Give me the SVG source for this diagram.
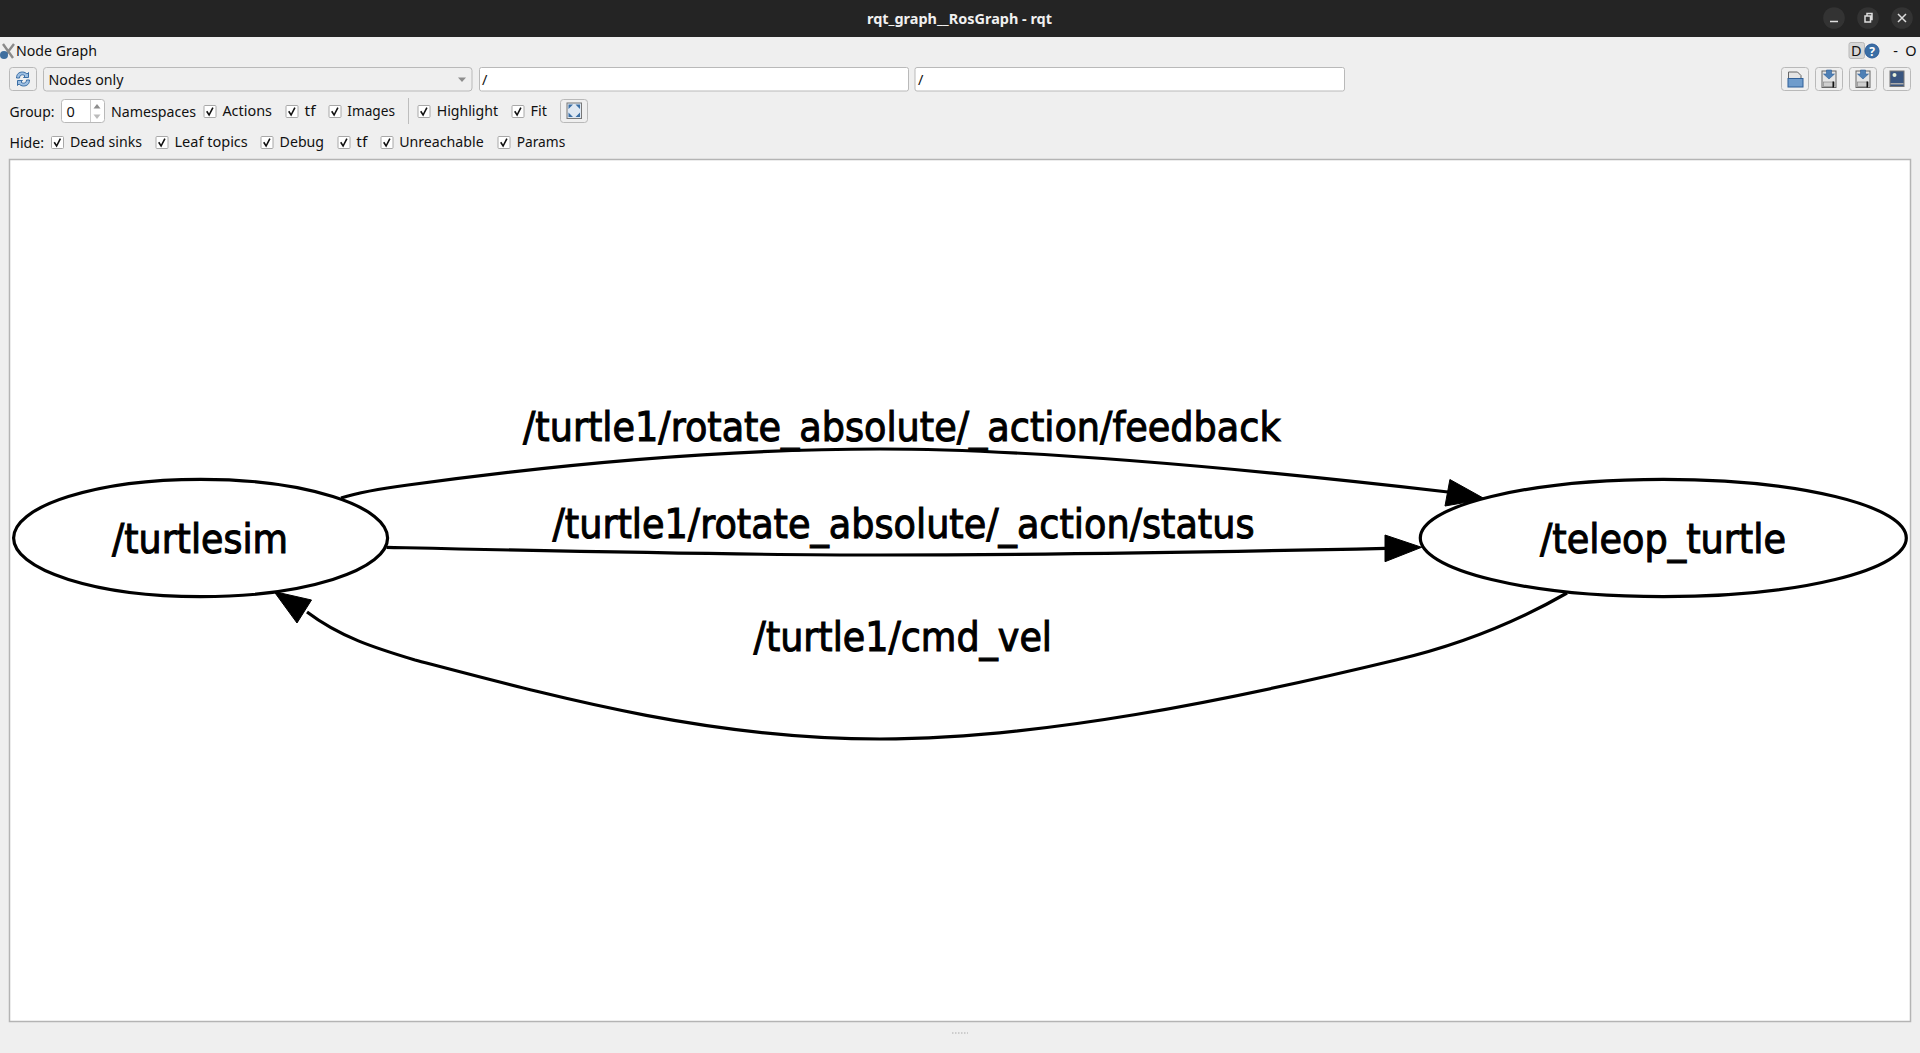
<svg xmlns="http://www.w3.org/2000/svg" width="1920" height="1053" viewBox="0 0 1920 1053">
<style>
.ui{font-family:"Noto Sans","Open Sans","DejaVu Sans",sans-serif;font-size:14.5px;fill:#111}
.btn{fill:#efefef;stroke:#b9b9b9;stroke-width:1}
.field{fill:#fff;stroke:#b9b9b9;stroke-width:1}
.cb{fill:#fff;stroke:#a8a8a8;stroke-width:1}
.chk{fill:none;stroke:#111;stroke-width:1.6}
.node{fill:#fff;stroke:#000;stroke-width:3.2}
.edge{fill:none;stroke:#000;stroke-width:3.2}
.head{fill:#000;stroke:#000;stroke-width:1}
.lbl{font-family:"DejaVu Sans","Liberation Sans",sans-serif;font-size:41px;fill:#000;stroke:#000;stroke-width:1.1}
.wb{fill:#333}
.wi{fill:none;stroke:#ddd;stroke-width:1.5}
.blue{fill:#3a6ea5}
.grey{fill:#8d8d8d}
</style>
<defs>
<g id="check"><rect class="cb" x="0.5" y="0.5" width="12" height="12" rx="1"/><path class="chk" d="M3.2 6.3L5.6 10L9.400 2.600"/></g>
<g id="saveicon"><rect x="-7" y="-8" width="14" height="16.500" fill="#e6e6e6" stroke="#666"/><rect x="-5.500" y="3" width="11" height="4.500" fill="#cfcfcf" stroke="#888" stroke-width=".7"/><path d="M-2.500 -9h5v4h3l-5.500 5l-5.500-5h3z" fill="#4f80b5" stroke="#2f5f98" stroke-width=".6"/><rect x="3.500" y="2.500" width="1.500" height="6" fill="#111"/></g>
</defs>
<rect width="1920" height="1053" fill="#efefef"/>

<g id="titlebar">
<rect width="1920" height="37" fill="#242424"/>
<text x="959.500" y="23.500" text-anchor="middle" textLength="185" lengthAdjust="spacingAndGlyphs" style="font-family:'Noto Sans','Open Sans',sans-serif;font-size:14.500px;font-weight:700;fill:#f0f0f0">rqt_graph__RosGraph - rqt</text>
<circle class="wb" cx="1834" cy="18" r="10.800"/><circle class="wb" cx="1868" cy="18" r="10.800"/><circle class="wb" cx="1902" cy="18" r="10.800"/>
<path class="wi" d="M1830 21.500h8"/>
<path class="wi" d="M1865 16h5.500v6h-5.500zM1867 16v-2.500h5v6h-1.500"/>
<path class="wi" d="M1898 14l8 8M1906 14l-8 8"/>
</g>

<g id="toolbar">
<path d="M4 57l10-13M13 58L3 44" stroke="#8a8a8a" stroke-width="2.400" fill="none"/><circle cx="4" cy="55" r="4" fill="#3f6f9f"/>
<text class="ui" x="16" y="56" textLength="81" lengthAdjust="spacingAndGlyphs">Node Graph</text>
<rect class="btn" x="1849" y="42.500" width="15.500" height="16" rx="2" style="fill:#d6d6d6"/>
<text x="1851" y="56" style="font-family:'Noto Sans',sans-serif;font-size:14.500px;fill:#111">D</text>
<circle cx="1872" cy="51" r="7" fill="#3a6ea5" stroke="#2a5a9a"/>
<text x="1872" y="55.500" text-anchor="middle" style="font-family:'Noto Sans',sans-serif;font-size:12px;font-weight:700;fill:#fff">?</text>
<text x="1895.500" y="56" text-anchor="middle" style="font-family:'Noto Sans',sans-serif;font-size:14.500px;fill:#111">-</text>
<text x="1911" y="56" text-anchor="middle" style="font-family:'Noto Sans',sans-serif;font-size:14.500px;fill:#111">O</text>

<rect class="btn" x="9.500" y="67.500" width="27" height="23" rx="3"/>
<path d="M16.500 78c0-4 2.500-6 6-6c2 0 3.500 1 4.500 2l1.500-1.500v5h-5l1.500-1.500c-.7-.8-1.600-1.200-2.500-1.200c-2 0-3 1.500-3 3.200zM29.500 80c0 4-2.500 6-6 6c-2 0-3.500-1-4.500-2l-1.500 1.500v-5h5l-1.500 1.500c.7.800 1.600 1.200 2.500 1.200c2 0 3-1.500 3-3.200z" fill="#9dbfe2" stroke="#3a6ea5" stroke-width="1"/>
<rect class="btn" x="43.500" y="67.500" width="428.500" height="23.500" rx="3"/>
<text class="ui" x="48.500" y="85" textLength="75" lengthAdjust="spacingAndGlyphs">Nodes only</text>
<path class="grey" d="M458 77.500h8l-4 4.500z"/>
<rect class="field" x="479.500" y="67.500" width="429" height="23.500" rx="2"/>
<text class="ui" x="482" y="85">/</text>
<rect class="field" x="915" y="67.500" width="429.500" height="23.500" rx="2"/>
<text class="ui" x="918" y="85">/</text>

<g id="save-buttons">
<rect class="btn" x="1781.500" y="67.500" width="27" height="23" rx="3"/>
<path d="M1788.500 72h9l3.500 3.500v6h-9v5h-3.500z" fill="#e4e4e4" stroke="#666"/><rect x="1788" y="78.500" width="15" height="8.500" fill="#6f9ccc" stroke="#2f5f98"/>
<rect class="btn" x="1815.500" y="67.500" width="27" height="23" rx="3"/><use href="#saveicon" x="1829" y="79"/>
<rect class="btn" x="1849.500" y="67.500" width="27" height="23" rx="3"/><use href="#saveicon" x="1863" y="79"/>
<rect class="btn" x="1883.500" y="67.500" width="27" height="23" rx="3"/>
<rect x="1890" y="71" width="14" height="15.500" fill="#3a5680" stroke="#777"/><circle cx="1894.500" cy="75" r="2" fill="#e8f0d8"/><rect x="1890.500" y="83" width="13" height="1.500" fill="#aaa"/>
</g>

<text class="ui" x="9.500" y="116.500" textLength="45" lengthAdjust="spacingAndGlyphs">Group:</text>
<rect class="field" x="61.500" y="99.500" width="43" height="23" rx="3"/>
<path d="M90.500 100v22" stroke="#ccc"/>
<text class="ui" x="66.500" y="116.500">0</text>
<path class="grey" d="M93.500 108.500l3.500-4.500l3.500 4.500z"/><path d="M93.500 114.500l3.500 4.500l3.500-4.500z" fill="#bbb"/>
<text class="ui" x="111" y="116.500" textLength="85" lengthAdjust="spacingAndGlyphs">Namespaces</text>
<use href="#check" x="203.500" y="105"/><text class="ui" x="222.400" y="116" textLength="49.600" lengthAdjust="spacingAndGlyphs">Actions</text>
<use href="#check" x="285.500" y="105"/><text class="ui" x="304.500" y="116" textLength="11" lengthAdjust="spacingAndGlyphs">tf</text>
<use href="#check" x="328.500" y="105"/><text class="ui" x="347.300" y="116" textLength="47.700" lengthAdjust="spacingAndGlyphs">Images</text>
<path d="M408.500 98v26" stroke="#bdbdbd"/>
<use href="#check" x="417.500" y="105"/><text class="ui" x="436.700" y="116" textLength="61.300" lengthAdjust="spacingAndGlyphs">Highlight</text>
<use href="#check" x="511.500" y="105"/><text class="ui" x="530.600" y="116" textLength="16.400" lengthAdjust="spacingAndGlyphs">Fit</text>
<rect class="btn" x="560.500" y="99.500" width="27" height="23" rx="3"/>
<rect x="567" y="103" width="14.500" height="15.500" fill="#dfe8f2" stroke="#777"/>
<path class="blue" d="M568.500 104.500h4.500l-4.500 4.500zM580 104.500h-4.500l4.500 4.500zM568.500 117h4.500l-4.500-4.500zM580 117h-4.500l4.500-4.500z"/>

<text class="ui" x="9.500" y="147.500" textLength="34.500" lengthAdjust="spacingAndGlyphs">Hide:</text>
<use href="#check" x="51" y="136"/><text class="ui" x="70" y="147" textLength="72" lengthAdjust="spacingAndGlyphs">Dead sinks</text>
<use href="#check" x="155.500" y="136"/><text class="ui" x="174.500" y="147" textLength="73.300" lengthAdjust="spacingAndGlyphs">Leaf topics</text>
<use href="#check" x="260.500" y="136"/><text class="ui" x="279.600" y="147" textLength="44.400" lengthAdjust="spacingAndGlyphs">Debug</text>
<use href="#check" x="337.500" y="136"/><text class="ui" x="356.300" y="147" textLength="11" lengthAdjust="spacingAndGlyphs">tf</text>
<use href="#check" x="380.500" y="136"/><text class="ui" x="399.200" y="147" textLength="84.500" lengthAdjust="spacingAndGlyphs">Unreachable</text>
<use href="#check" x="497.500" y="136"/><text class="ui" x="516.700" y="147" textLength="48.600" lengthAdjust="spacingAndGlyphs">Params</text>
</g>

<rect id="canvas" x="9.500" y="159.500" width="1901" height="862" fill="#fff" stroke="#b4b4b4" stroke-width="1.500"/>
<path id="grip" d="M952 1033h16" stroke="#aaa" stroke-width="1" stroke-dasharray="1.500 1.500"/>

<g id="connectors">
<g id="edge-feedback">
<path class="edge" d="M341 498C360 492 385 488 408 485C560 464 725 449 880 449C1030 449 1240 468 1448 492"/>
<path class="head" d="M1449.900 479.500L1485 499L1445 506z"/>
<text class="lbl" x="523" y="441.200" textLength="757.600" lengthAdjust="spacingAndGlyphs">/turtle1/rotate_absolute/_action/feedback</text>
</g>
<g id="edge-status">
<path class="edge" d="M386.500 547.300C550 551 720 555 880 555C1050 555 1220 552 1386 548.300"/>
<path class="head" d="M1385 535L1421.600 547.300L1385 561.700z"/>
<text class="lbl" x="552.500" y="538" textLength="702" lengthAdjust="spacingAndGlyphs">/turtle1/rotate_absolute/_action/status</text>
</g>
<g id="edge-cmd-vel">
<path class="edge" d="M1567 593C1520 620 1460 645 1396 660C1230 700 1040 739 880 739C710 739 560 698 415 660C375 648 340 637 307 612"/>
<path class="head" d="M311.500 600L274 591.500L297 623z"/>
<text class="lbl" x="753.600" y="651" textLength="298.400" lengthAdjust="spacingAndGlyphs">/turtle1/cmd_vel</text>
</g>
</g>

<g id="turtlesim">
<ellipse class="node" cx="200.600" cy="538" rx="187" ry="58.700"/>
<text class="lbl" x="112" y="552.700" textLength="176" lengthAdjust="spacingAndGlyphs">/turtlesim</text>
</g>
<g id="teleop_turtle">
<ellipse class="node" cx="1663.300" cy="538" rx="243" ry="58.700"/>
<text class="lbl" x="1540" y="552.700" textLength="246" lengthAdjust="spacingAndGlyphs">/teleop_turtle</text>
</g>
</svg>
